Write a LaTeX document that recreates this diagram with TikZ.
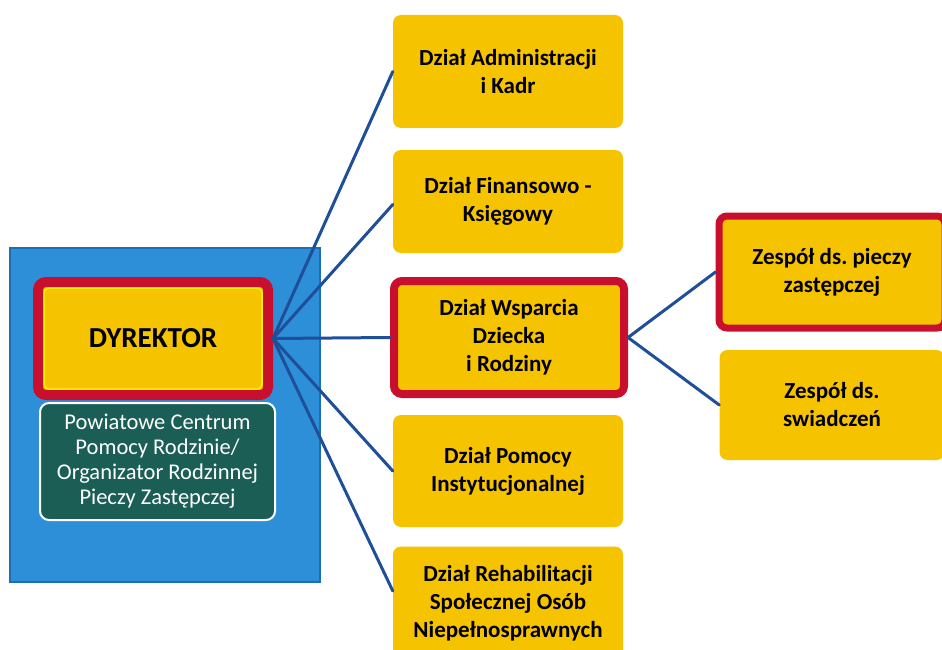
\documentclass[tikz,border=0pt]{standalone}
\usepackage{fontspec}
\setmainfont{Carlito}
\frenchspacing
\definecolor{boxyellow}{HTML}{F5C300}
\definecolor{hiyellow}{HTML}{FFF000}
\definecolor{boxred}{HTML}{C8102E}
\definecolor{panelblue}{HTML}{2C8FD7}
\definecolor{panelblueedge}{HTML}{1F6FB0}
\definecolor{teal}{HTML}{1B5E55}
\definecolor{linkblue}{HTML}{1F4F99}
\begin{document}
\begin{tikzpicture}[x=1pt,y=-1pt,
  dept/.style={rectangle, rounded corners=8pt, fill=boxyellow, draw=none,
    minimum width=230pt, minimum height=113pt, align=center, inner sep=4pt,
    font=\bfseries\fontsize{23}{28}\selectfont, text=black},
  hot/.style={dept, draw=boxred, line width=8pt},
  link/.style={draw=linkblue, line width=3pt, line cap=round}]
\useasboundingbox (0,0) rectangle (942,650);
\fill[white] (0,0) rectangle (942,650);
% blue panel
\path[fill=panelblue, draw=panelblueedge, line width=1.5pt] (10,248) rectangle (320,582);
% director
\node[hot, line width=10pt, minimum width=230pt, minimum height=113pt,
  font=\bfseries\fontsize{29}{34}\selectfont] (dyr) at (153,338.5) {DYREKTOR};
\draw[hiyellow, line width=1.5pt, rounded corners=5pt]
  ([shift={(11pt,-11pt)}]dyr.north west) rectangle ([shift={(-11pt,11pt)}]dyr.south east);
\node[rectangle, rounded corners=9pt, fill=teal, draw=white, line width=2pt,
  minimum width=235pt, minimum height=117pt, align=center, text=white,
  font=\fontsize{22.5}{25}\selectfont] (pcpr) at (157.5,461.5)
  {Powiatowe Centrum\\Pomocy Rodzinie/\\Organizator Rodzinnej\\Pieczy Zastępczej};
% departments
\node[dept] (b1) at (508,71.5) {Dział Administracji\\i Kadr};
\node[dept, minimum height=103pt] (b2) at (508,201.5) {Dział Finansowo -\\Księgowy};
\node[hot] (b3) at (509,337.5) {Dział Wsparcia\\Dziecka\\i Rodziny};
\node[dept, minimum height=112pt] (b4) at (508,471) {Dział Pomocy\\Instytucjonalnej};
\node[dept] (b5) at (508,603) {Dział Rehabilitacji\\Społecznej Osób\\Niepełnosprawnych};
% teams
\node[hot, line width=7pt, minimum width=226pt, minimum height=112pt] (z1) at (832,272)
  {Zespół ds. pieczy\\zastępczej};
\node[dept, minimum width=225pt, minimum height=110pt] (z2) at (832,405)
  {Zespół ds.\\swiadczeń};
% connectors
\draw[link] (dyr.east) -- (b1.west);
\draw[link] (dyr.east) -- ([yshift=-3pt]b2.west);
\draw[link] (dyr.east) -- (b3.west);
\draw[link] (dyr.east) -- (b4.west);
\draw[link] (dyr.east) -- ([yshift=12pt]b5.west);
\draw[link] (b3.east) -- (z1.west);
\draw[link] (b3.east) -- (z2.west);
\end{tikzpicture}
\end{document}
